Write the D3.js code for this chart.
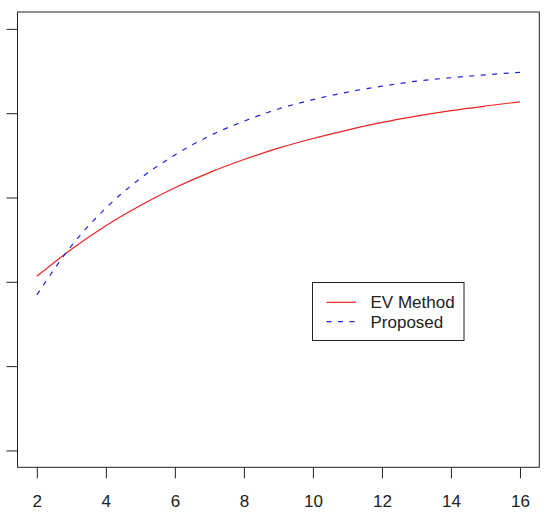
<!DOCTYPE html>
<html>
<head>
<meta charset="utf-8">
<script src="https://cdn.jsdelivr.net/npm/d3@7"></script>
<style>
  body { margin: 0; background: #fff; }
  text { font-family: "Liberation Sans", Arial, sans-serif; }
</style>
</head>
<body>
<div id="chart"></div>
<script>
var xs       = [2, 3, 4, 5, 6, 7, 8, 9, 10, 11, 12, 13, 14, 15, 16];
var evMethod = [0.413, 0.477, 0.533, 0.581, 0.623, 0.659, 0.690, 0.717, 0.740, 0.760, 0.778, 0.793, 0.806, 0.817, 0.827];
var proposed = [0.369, 0.485, 0.575, 0.645, 0.701, 0.746, 0.781, 0.810, 0.832, 0.850, 0.864, 0.876, 0.884, 0.891, 0.897];
var xTicks   = [2, 4, 6, 8, 10, 12, 14, 16];
var yTicks   = [0, 0.2, 0.4, 0.6, 0.8, 1.0];
var seriesNames = ["EV Method", "Proposed"];

function renderPlot() {
    var outerWidth = 544, outerHeight = 512;
    var box = {left: 17.5, right: 539.3, top: 12, bottom: 467.3};

    // R style: 4% padding around the data range
    var x = d3.scaleLinear()
        .domain([2 - 0.56, 16 + 0.56])
        .range([box.left, box.right]);

    var y = d3.scaleLinear()
        .domain([-0.04, 1.04])
        .range([box.bottom, box.top]);

    var svg = d3.select("#chart").append("svg")
        .attr("width", outerWidth)
        .attr("height", outerHeight);

    var xAxis = d3.axisBottom(x)
        .tickValues(xTicks)
        .tickSize(11)
        .tickPadding(16.3)
        .tickFormat(d3.format("d"));

    var yAxis = d3.axisLeft(y)
        .tickValues(yTicks)
        .tickSize(11)
        .tickFormat("");

    var gx = svg.append("g")
        .attr("transform", "translate(0," + box.bottom + ")")
        .call(xAxis);
    gx.select(".domain").remove();
    gx.selectAll("line").attr("stroke", "#222");
    gx.selectAll("text")
        .style("font-size", "17px")
        .attr("fill", "#222")
        .attr("font-family", "Liberation Sans, Arial, sans-serif");

    var gy = svg.append("g")
        .attr("transform", "translate(" + box.left + ",0)")
        .call(yAxis);
    gy.select(".domain").remove();
    gy.selectAll("line").attr("stroke", "#222");

    svg.append("rect")
        .attr("x", box.left)
        .attr("y", box.top)
        .attr("width", box.right - box.left)
        .attr("height", box.bottom - box.top)
        .attr("fill", "none")
        .attr("stroke", "#222")
        .attr("stroke-width", 1);

    var line = d3.line()
        .x(function(d) { return x(d[0]); })
        .y(function(d) { return y(d[1]); })
        .curve(d3.curveMonotoneX);

    svg.append("path")
        .datum(d3.zip(xs, evMethod))
        .attr("d", line)
        .attr("fill", "none")
        .attr("stroke", "#ee2222")
        .attr("stroke-width", 1.2);

    svg.append("path")
        .datum(d3.zip(xs, proposed))
        .attr("d", line)
        .attr("fill", "none")
        .attr("stroke", "#2222dd")
        .attr("stroke-width", 1.2)
        .attr("stroke-dasharray", "5,6.5");

    // legend
    var lg = svg.append("g");
    lg.append("rect")
        .attr("x", 312.5).attr("y", 282.5)
        .attr("width", 151.5).attr("height", 58)
        .attr("fill", "#fff")
        .attr("stroke", "#222");

    var styles = [
        {color: "#ee2222", dash: null},
        {color: "#2222dd", dash: "5,6.5"}
    ];
    seriesNames.forEach(function(name, i) {
        var ly = 302.3 + i * 19.4;
        lg.append("line")
            .attr("x1", 326.5).attr("x2", 356)
            .attr("y1", ly).attr("y2", ly)
            .attr("stroke", styles[i].color)
            .attr("stroke-width", 1.2)
            .attr("stroke-dasharray", styles[i].dash);
        lg.append("text")
            .attr("x", 370.5)
            .attr("y", ly)
            .attr("dy", "0.36em")
            .style("font-size", "17px")
            .attr("fill", "#222")
            .text(name);
    });
}

renderPlot();
</script>
</body>
</html>
